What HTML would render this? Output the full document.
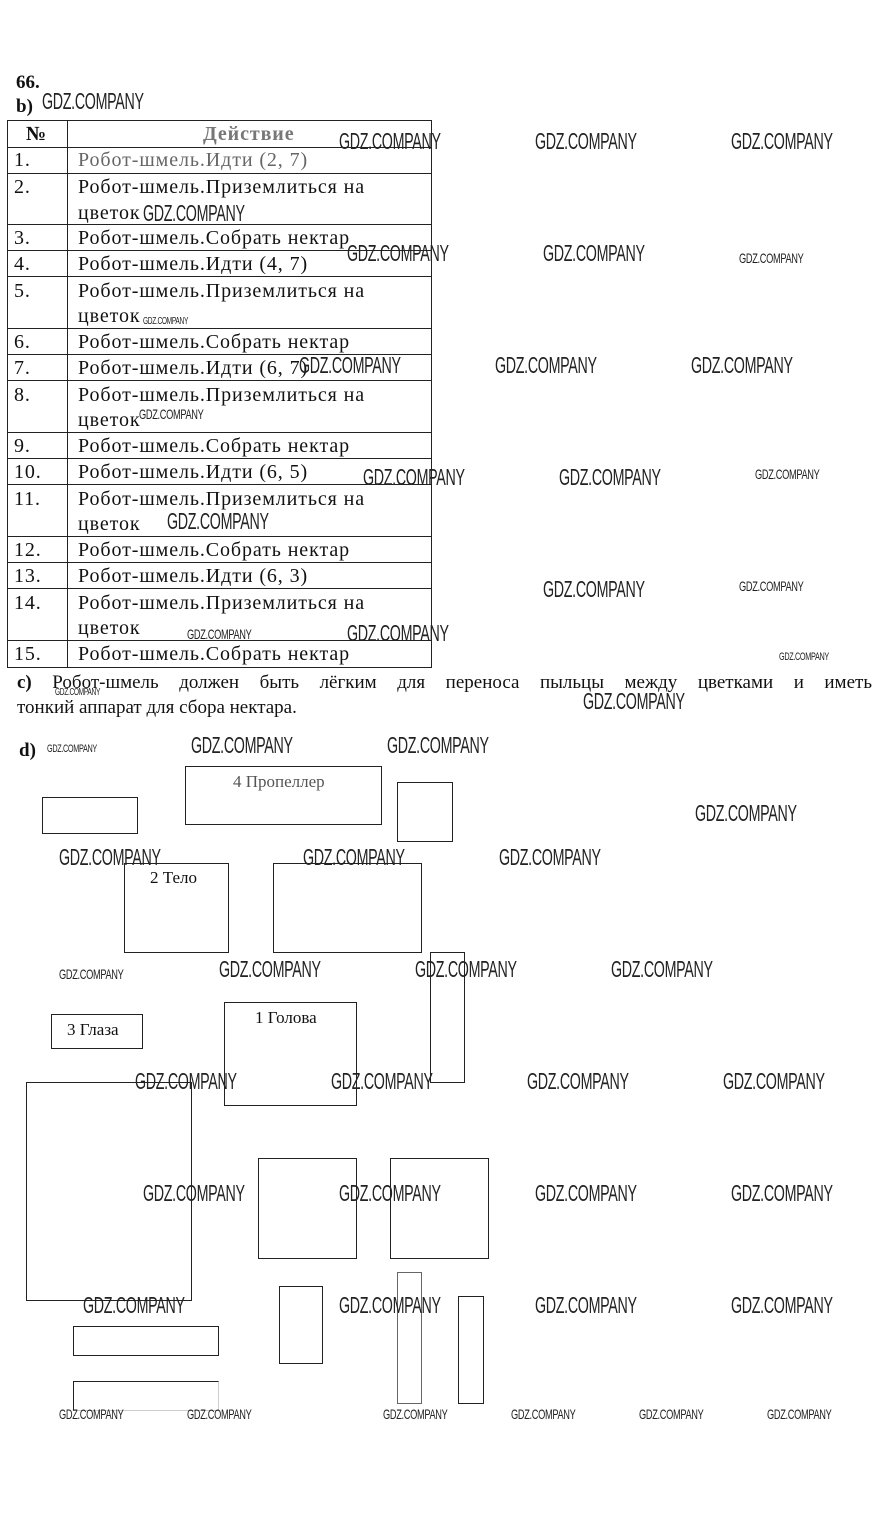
<!DOCTYPE html>
<html><head><meta charset="utf-8"><style>
body{margin:0;width:880px;height:1523px;background:#fff;position:relative;overflow:hidden;font-family:"Liberation Serif",serif;color:#111}
.a{position:absolute}
.b{position:absolute;border:1px solid #222;box-sizing:border-box}
.w{position:absolute;font-family:"Liberation Sans",sans-serif;font-size:23px;line-height:23px;transform:scaleX(0.62);transform-origin:0 0;color:#222;white-space:nowrap;letter-spacing:-0.5px}
.s{font-size:14px;line-height:14px;transform:scaleX(0.66)}
.h{position:absolute;left:7px;width:425px;height:1px;background:#222}
.t{position:absolute;font-size:20px;line-height:20px;white-space:nowrap;letter-spacing:0.9px}
.lab{position:absolute;font-size:17px;white-space:nowrap}
</style></head><body>
<div class="a" style="left:16px;top:72px;font-weight:bold;font-size:19px">66.</div>
<div class="a" style="left:16px;top:96px;font-weight:bold;font-size:19px">b)</div>
<div class="b" style="left:7px;top:120px;width:425px;height:548px"></div>
<div class="a" style="left:67px;top:120px;width:1px;height:548px;background:#222"></div>
<div class="h" style="top:147px"></div><div class="h" style="top:173px"></div><div class="h" style="top:224px"></div><div class="h" style="top:250px"></div><div class="h" style="top:276px"></div><div class="h" style="top:328px"></div><div class="h" style="top:354px"></div><div class="h" style="top:380px"></div><div class="h" style="top:432px"></div><div class="h" style="top:458px"></div><div class="h" style="top:484px"></div><div class="h" style="top:536px"></div><div class="h" style="top:562px"></div><div class="h" style="top:588px"></div><div class="h" style="top:640px"></div>
<div class="t" style="left:26px;top:124px;font-weight:bold">№</div>
<div class="t" style="left:203px;top:124px;font-weight:bold;color:#777">Действие</div>
<div class="t" style="left:14px;top:150px">1.</div><div class="t" style="left:78px;top:150px;color:#666">Робот-шмель.Идти (2, 7)</div>
<div class="t" style="left:14px;top:177px">2.</div><div class="t" style="left:78px;top:177px">Робот-шмель.Приземлиться на</div><div class="t" style="left:78px;top:203px">цветок</div>
<div class="t" style="left:14px;top:228px">3.</div><div class="t" style="left:78px;top:228px">Робот-шмель.Собрать нектар</div>
<div class="t" style="left:14px;top:254px">4.</div><div class="t" style="left:78px;top:254px">Робот-шмель.Идти (4, 7)</div>
<div class="t" style="left:14px;top:281px">5.</div><div class="t" style="left:78px;top:281px">Робот-шмель.Приземлиться на</div><div class="t" style="left:78px;top:306px">цветок</div>
<div class="t" style="left:14px;top:332px">6.</div><div class="t" style="left:78px;top:332px">Робот-шмель.Собрать нектар</div>
<div class="t" style="left:14px;top:358px">7.</div><div class="t" style="left:78px;top:358px">Робот-шмель.Идти (6, 7)</div>
<div class="t" style="left:14px;top:385px">8.</div><div class="t" style="left:78px;top:385px">Робот-шмель.Приземлиться на</div><div class="t" style="left:78px;top:410px">цветок</div>
<div class="t" style="left:14px;top:436px">9.</div><div class="t" style="left:78px;top:436px">Робот-шмель.Собрать нектар</div>
<div class="t" style="left:14px;top:462px">10.</div><div class="t" style="left:78px;top:462px">Робот-шмель.Идти (6, 5)</div>
<div class="t" style="left:14px;top:489px">11.</div><div class="t" style="left:78px;top:489px">Робот-шмель.Приземлиться на</div><div class="t" style="left:78px;top:514px">цветок</div>
<div class="t" style="left:14px;top:540px">12.</div><div class="t" style="left:78px;top:540px">Робот-шмель.Собрать нектар</div>
<div class="t" style="left:14px;top:566px">13.</div><div class="t" style="left:78px;top:566px">Робот-шмель.Идти (6, 3)</div>
<div class="t" style="left:14px;top:593px">14.</div><div class="t" style="left:78px;top:593px">Робот-шмель.Приземлиться на</div><div class="t" style="left:78px;top:618px">цветок</div>
<div class="t" style="left:14px;top:644px">15.</div><div class="t" style="left:78px;top:644px">Робот-шмель.Собрать нектар</div>
<div class="a" style="left:17px;top:670px;width:855px;font-size:19px;line-height:25px;text-align:justify;text-align-last:justify"><b>c)</b> Робот-шмель должен быть лёгким для переноса пыльцы между цветками и иметь</div>
<div class="a" style="left:17px;top:695px;font-size:19px;line-height:25px">тонкий аппарат для сбора нектара.</div>
<div class="a" style="left:19px;top:740px;font-weight:bold;font-size:19px">d)</div>
<div class="b" style="left:42px;top:797px;width:96px;height:37px"></div>
<div class="b" style="left:185px;top:766px;width:197px;height:59px"></div>
<div class="lab" style="left:233px;top:772px;color:#555">4 Пропеллер</div>
<div class="b" style="left:397px;top:782px;width:56px;height:60px"></div>
<div class="b" style="left:124px;top:863px;width:105px;height:90px"></div>
<div class="lab" style="left:150px;top:868px">2 Тело</div>
<div class="b" style="left:273px;top:863px;width:149px;height:90px"></div>
<div class="b" style="left:430px;top:952px;width:35px;height:131px"></div>
<div class="b" style="left:51px;top:1014px;width:92px;height:35px"></div>
<div class="lab" style="left:67px;top:1020px">3 Глаза</div>
<div class="b" style="left:224px;top:1002px;width:133px;height:104px"></div>
<div class="lab" style="left:255px;top:1008px">1 Голова</div>
<div class="b" style="left:26px;top:1082px;width:166px;height:219px"></div>
<div class="b" style="left:258px;top:1158px;width:99px;height:101px"></div>
<div class="b" style="left:390px;top:1158px;width:99px;height:101px"></div>
<div class="b" style="left:279px;top:1286px;width:44px;height:78px"></div>
<div class="b" style="left:397px;top:1272px;width:25px;height:132px;border-color:#666"></div>
<div class="b" style="left:458px;top:1296px;width:26px;height:108px"></div>
<div class="b" style="left:73px;top:1326px;width:146px;height:30px"></div>
<div class="b" style="left:73px;top:1381px;width:146px;height:30px;border-bottom-color:#ccc;border-right-color:#ccc"></div>
<div class="w" style="left:42px;top:90px">GDZ.COMPANY</div>
<div class="w" style="left:339px;top:130px">GDZ.COMPANY</div>
<div class="w" style="left:535px;top:130px">GDZ.COMPANY</div>
<div class="w" style="left:731px;top:130px">GDZ.COMPANY</div>
<div class="w" style="left:143px;top:202px">GDZ.COMPANY</div>
<div class="w" style="left:347px;top:242px">GDZ.COMPANY</div>
<div class="w" style="left:543px;top:242px">GDZ.COMPANY</div>
<div class="w s" style="left:739px;top:251px">GDZ.COMPANY</div>
<div class="w s" style="left:143px;top:315px;font-size:10px">GDZ.COMPANY</div>
<div class="w" style="left:299px;top:354px">GDZ.COMPANY</div>
<div class="w" style="left:495px;top:354px">GDZ.COMPANY</div>
<div class="w" style="left:691px;top:354px">GDZ.COMPANY</div>
<div class="w s" style="left:139px;top:407px">GDZ.COMPANY</div>
<div class="w" style="left:363px;top:466px">GDZ.COMPANY</div>
<div class="w" style="left:559px;top:466px">GDZ.COMPANY</div>
<div class="w s" style="left:755px;top:467px">GDZ.COMPANY</div>
<div class="w" style="left:167px;top:510px">GDZ.COMPANY</div>
<div class="w" style="left:543px;top:578px">GDZ.COMPANY</div>
<div class="w s" style="left:739px;top:579px">GDZ.COMPANY</div>
<div class="w s" style="left:187px;top:627px">GDZ.COMPANY</div>
<div class="w" style="left:347px;top:622px">GDZ.COMPANY</div>
<div class="w s" style="left:779px;top:650px;font-size:11px">GDZ.COMPANY</div>
<div class="w s" style="left:55px;top:686px;font-size:10px">GDZ.COMPANY</div>
<div class="w" style="left:583px;top:690px">GDZ.COMPANY</div>
<div class="w s" style="left:47px;top:742px;font-size:11px">GDZ.COMPANY</div>
<div class="w" style="left:191px;top:734px">GDZ.COMPANY</div>
<div class="w" style="left:387px;top:734px">GDZ.COMPANY</div>
<div class="w" style="left:695px;top:802px">GDZ.COMPANY</div>
<div class="w" style="left:59px;top:846px">GDZ.COMPANY</div>
<div class="w" style="left:303px;top:846px">GDZ.COMPANY</div>
<div class="w" style="left:499px;top:846px">GDZ.COMPANY</div>
<div class="w s" style="left:59px;top:967px">GDZ.COMPANY</div>
<div class="w" style="left:219px;top:958px">GDZ.COMPANY</div>
<div class="w" style="left:415px;top:958px">GDZ.COMPANY</div>
<div class="w" style="left:611px;top:958px">GDZ.COMPANY</div>
<div class="w" style="left:135px;top:1070px">GDZ.COMPANY</div>
<div class="w" style="left:331px;top:1070px">GDZ.COMPANY</div>
<div class="w" style="left:527px;top:1070px">GDZ.COMPANY</div>
<div class="w" style="left:723px;top:1070px">GDZ.COMPANY</div>
<div class="w" style="left:143px;top:1182px">GDZ.COMPANY</div>
<div class="w" style="left:339px;top:1182px">GDZ.COMPANY</div>
<div class="w" style="left:535px;top:1182px">GDZ.COMPANY</div>
<div class="w" style="left:731px;top:1182px">GDZ.COMPANY</div>
<div class="w" style="left:83px;top:1294px">GDZ.COMPANY</div>
<div class="w" style="left:339px;top:1294px">GDZ.COMPANY</div>
<div class="w" style="left:535px;top:1294px">GDZ.COMPANY</div>
<div class="w" style="left:731px;top:1294px">GDZ.COMPANY</div>
<div class="w s" style="left:59px;top:1407px">GDZ.COMPANY</div>
<div class="w s" style="left:187px;top:1407px">GDZ.COMPANY</div>
<div class="w s" style="left:383px;top:1407px">GDZ.COMPANY</div>
<div class="w s" style="left:511px;top:1407px">GDZ.COMPANY</div>
<div class="w s" style="left:639px;top:1407px">GDZ.COMPANY</div>
<div class="w s" style="left:767px;top:1407px">GDZ.COMPANY</div>
</body></html>
